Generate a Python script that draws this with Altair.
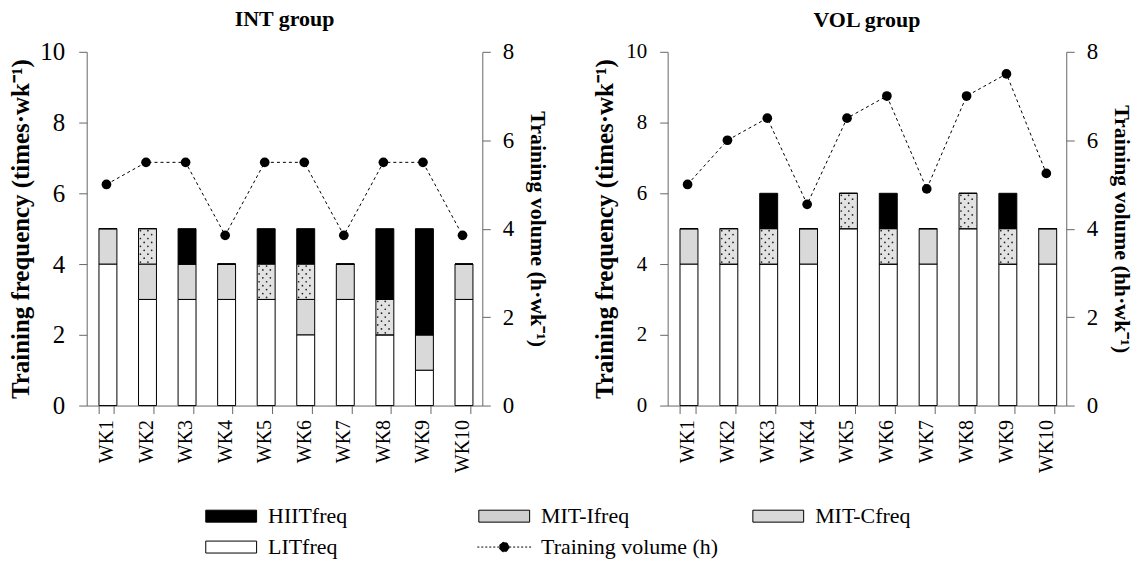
import altair as alt
import pandas as pd

FONT = "Liberation Serif"

weeks = ["WK1", "WK2", "WK3", "WK4", "WK5", "WK6", "WK7", "WK8", "WK9", "WK10"]
stack_types = ["LITfreq", "MIT-Cfreq", "MIT-Ifreq", "HIITfreq"]  # bottom -> top

# INT group
int_lit = [4, 3, 3, 3, 3, 2, 3, 2, 1, 3]
int_mitc = [1, 1, 1, 1, 0, 1, 1, 0, 1, 1]
int_miti = [0, 1, 0, 0, 1, 1, 0, 1, 0, 0]
int_hiit = [0, 0, 1, 0, 1, 1, 0, 2, 3, 0]
int_volume = [5.0, 5.5, 5.5, 3.85, 5.5, 5.5, 3.85, 5.5, 5.5, 3.85]

# VOL group
vol_lit = [4, 4, 4, 4, 5, 4, 4, 5, 4, 4]
vol_mitc = [1, 0, 0, 1, 0, 0, 1, 0, 0, 1]
vol_miti = [0, 1, 1, 0, 1, 1, 0, 1, 1, 0]
vol_hiit = [0, 0, 1, 0, 0, 1, 0, 0, 1, 0]
vol_volume = [5.0, 6.0, 6.5, 4.55, 6.5, 7.0, 4.9, 7.0, 7.5, 5.25]

legend_domain = ["HIITfreq", "MIT-Ifreq", "MIT-Cfreq", "LITfreq"]
legend_range = ["black", "#e2e2e2", "#d9d9d9", "white"]
line_label = "Training volume (h)"

# legend swatches: drawn wider than their layout size (size 144 -> unit = 6 px)
RECT_PATH = "M-4.25,-1H4.25V1H-4.25Z"
LINE_PATH = "M-4.5,0H4.5M0.8,0A0.8,0.8,0,1,1,-0.8,0A0.8,0.8,0,1,1,0.8,0Z"
SYM_SIZE = 144

AXIS_COMMON = dict(
    labelFont=FONT, labelColor="black", titleFont=FONT, titleColor="black",
    titleFontWeight="bold", domainColor="#666666",
    tickColor="#666666", tickSize=8, grid=False,
)
LEG_COMMON = dict(labelFont=FONT, labelFontSize=22, labelColor="black", labelLimit=400,
                  title=None, orient="none", symbolSize=SYM_SIZE, labelOffset=26)

ROW1_Y = 455
ROW_GAP = 31


def panel(title, lit, mitc, miti, hiit, volume, vol_title, left_size, left_lp, left_tp,
          right_size, width):
    rows = []
    for i, w in enumerate(weeks):
        for k, (t, v) in enumerate(zip(stack_types, [lit[i], mitc[i], miti[i], hiit[i]])):
            rows.append({"week": w, "type": t, "value": v, "order": k})
    bars_df = pd.DataFrame(rows)

    # dot texture for the MIT-I segments (pattern fill), derived from the data
    dots = []
    for i, w in enumerate(weeks):
        if miti[i] > 0:
            lo = lit[i] + mitc[i]
            n = 9 * miti[i]
            for r in range(n):
                for c in ([0, 2] if r % 2 == 0 else [1, 3]):
                    dots.append({"week": w, "value": lo + (r + 0.5) / 9, "col": c,
                                 "pattern": "MIT-Ifreq", "ink": "dot"})
    dots_df = pd.DataFrame(dots)

    line_df = pd.DataFrame({"week": weeks, "volume": volume, "series": line_label})

    x_scale = alt.Scale(paddingInner=0.62, paddingOuter=0.31)
    x = alt.X("week:N", sort=weeks, scale=x_scale,
              axis=alt.Axis(title=None, labelAngle=-90, tickBand="extent",
                            labelFontSize=20, labelPadding=6, **AXIS_COMMON))
    x_plain = alt.X("week:N", sort=weeks, scale=x_scale)

    bars = alt.Chart(bars_df).mark_bar(stroke="black", strokeWidth=1).encode(
        x=x,
        y=alt.Y("value:Q", stack="zero", scale=alt.Scale(domain=[0, 10]),
                axis=alt.Axis(values=[0, 2, 4, 6, 8, 10], title="Training frequency (times·wk⁻¹)",
                              labelFontSize=left_size, labelPadding=left_lp,
                              titlePadding=left_tp, titleFontSize=25, **AXIS_COMMON)),
        fill=alt.Fill("type:N", scale=alt.Scale(domain=legend_domain, range=legend_range),
                      legend=alt.Legend(
                          values=["HIITfreq", "MIT-Cfreq", "LITfreq"],
                          legendX=134, legendY=ROW1_Y, columns=2,
                          direction="horizontal", gridAlign="each",
                          columnPadding=404, rowPadding=9,
                          symbolType=RECT_PATH,
                          symbolStrokeColor="black", symbolStrokeWidth=1,
                          **LEG_COMMON)),
        order=alt.Order("order:Q"),
    )

    dotl = alt.Chart(dots_df).mark_point(filled=True, size=3).encode(
        x=x_plain,
        xOffset=alt.XOffset("col:O", scale=alt.Scale(domain=[0, 1, 2, 3])),
        y=alt.Y("value:Q", stack=None, scale=alt.Scale(domain=[0, 10]), axis=None),
        color=alt.Color("ink:N", scale=alt.Scale(range=["#222222"]), legend=None),
        opacity=alt.Opacity("pattern:N", scale=alt.Scale(range=[1]),
                            legend=alt.Legend(
                                legendX=408, legendY=ROW1_Y,
                                symbolType=RECT_PATH,
                                symbolFillColor="#cfcfcf", symbolStrokeColor="black",
                                symbolStrokeWidth=1, symbolOpacity=1,
                                **LEG_COMMON)),
    )

    line = alt.Chart(line_df).mark_line(strokeDash=[3, 3], strokeWidth=1).encode(
        x=x_plain,
        y=alt.Y("volume:Q", scale=alt.Scale(domain=[0, 8]),
                axis=alt.Axis(orient="right", values=[0, 2, 4, 6, 8], title=vol_title,
                              labelFontSize=right_size, labelPadding=12, titlePadding=12,
                              titleFontSize=22, **AXIS_COMMON)),
        stroke=alt.Stroke("series:N", scale=alt.Scale(range=["black"]),
                          legend=alt.Legend(
                              legendX=408, legendY=ROW1_Y + ROW_GAP,
                              symbolType=LINE_PATH,
                              symbolFillColor="black", symbolStrokeColor="black",
                              symbolStrokeWidth=1, symbolDash=[2, 2],
                              **LEG_COMMON)),
    )

    pts = alt.Chart(line_df).mark_point(filled=True, size=95, opacity=1, color="black").encode(
        x=x_plain,
        y=alt.Y("volume:Q", scale=alt.Scale(domain=[0, 8]), axis=None),
    )

    return alt.layer(bars, dotl, line, pts).resolve_scale(
        y="independent"
    ).properties(
        width=width, height=355,
        title=alt.Title(title, font=FONT, fontSize=22, fontWeight="bold",
                        color="black", anchor="middle", offset=9),
    )


left = panel("INT group", int_lit, int_mitc, int_miti, int_hiit, int_volume,
             "Training volume (h·wk⁻¹)", 25, 14, 6, 23, 397)
right = panel("VOL group", vol_lit, vol_mitc, vol_miti, vol_hiit, vol_volume,
              "Training volume (hh·wk⁻¹)", 21, 13, 8, 23, 400)

chart = alt.hconcat(left, right, spacing=44).properties(
    padding={"left": 9, "top": 7, "right": 2, "bottom": 2}
).configure(font=FONT, background="white").configure_view(strokeWidth=0)

chart.save("out.html", embed_options={"renderer": "svg", "actions": False})
